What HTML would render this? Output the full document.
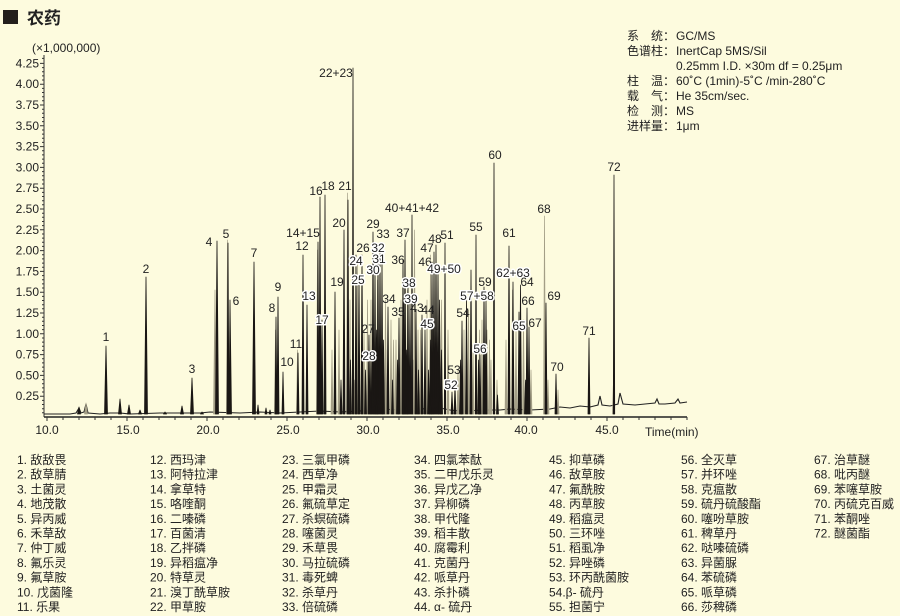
<!DOCTYPE html>
<html><head><meta charset="utf-8"><style>
html,body{margin:0;padding:0;background:#fdfbde;}
svg{display:block;}
text{font-family:"Liberation Sans","Noto Sans CJK SC",sans-serif;fill:#222;}
.h{paint-order:stroke;stroke:#fff;stroke-width:3px;stroke-linejoin:round;}
</style></head><body>
<svg width="900" height="616" viewBox="0 0 900 616" xmlns="http://www.w3.org/2000/svg">
<rect width="900" height="616" fill="#fdfbde"/>
<!-- header -->
<rect x="3" y="10" width="15" height="14" fill="#231f1c"/>
<text x="27" y="24" font-size="17" font-weight="bold">农药</text>
<text x="32" y="52" font-size="12">(×1,000,000)</text>

<!-- info -->
<g font-size="12">
<text x="627" y="40">系　统：</text><text x="676" y="40">GC/MS</text>
<text x="627" y="55">色谱柱：</text><text x="676" y="55">InertCap 5MS/Sil</text>
<text x="676" y="70">0.25mm I.D. ×30m df = 0.25μm</text>
<text x="627" y="85">柱　温：</text><text x="676" y="85">60˚C (1min)-5˚C /min-280˚C</text>
<text x="627" y="100">载　气：</text><text x="676" y="100">He 35cm/sec.</text>
<text x="627" y="115">检　测：</text><text x="676" y="115">MS</text>
<text x="627" y="130">进样量：</text><text x="676" y="130">1μm</text>
</g>

<!-- y axis -->
<g stroke="#333" stroke-width="1">
<line x1="44" y1="55" x2="44" y2="417"/>
<path d="M40 63.4H44M40 84.2H44M40 105H44M40 125.8H44M40 146.6H44M40 167.4H44M40 188.2H44M40 209H44M40 229.8H44M40 250.6H44M40 271.4H44M40 292.2H44M40 313H44M40 333.8H44M40 354.6H44M40 375.4H44M40 396.2H44"/>
<path d="M42 58.4H44M42 67.6H44M42 71.7H44M42 75.9H44M42 80H44M42 88.4H44M42 92.5H44M42 96.7H44M42 100.8H44M42 109.2H44M42 113.3H44M42 117.5H44M42 121.6H44M42 130H44M42 134.1H44M42 138.3H44M42 142.4H44M42 150.8H44M42 154.9H44M42 159.1H44M42 163.2H44M42 171.6H44M42 175.7H44M42 179.9H44M42 184H44M42 192.4H44M42 196.5H44M42 200.7H44M42 204.8H44M42 213.2H44M42 217.3H44M42 221.5H44M42 225.6H44M42 234H44M42 238.1H44M42 242.3H44M42 246.4H44M42 254.8H44M42 258.9H44M42 263.1H44M42 267.2H44M42 275.6H44M42 279.7H44M42 283.9H44M42 288H44M42 296.4H44M42 300.5H44M42 304.7H44M42 308.8H44M42 317.2H44M42 321.3H44M42 325.5H44M42 329.6H44M42 338H44M42 342.1H44M42 346.3H44M42 350.4H44M42 358.8H44M42 362.9H44M42 367.1H44M42 371.2H44M42 379.6H44M42 383.7H44M42 387.9H44M42 392H44M42 400.4H44M42 404.5H44M42 408.7H44M42 412.8H44"/>
</g>
<g font-size="12" text-anchor="end">
<text x="39" y="67.4">4.25</text><text x="39" y="88.2">4.00</text><text x="39" y="109">3.75</text>
<text x="39" y="129.8">3.50</text><text x="39" y="150.6">3.25</text><text x="39" y="171.4">3.00</text>
<text x="39" y="192.2">2.75</text><text x="39" y="213">2.50</text><text x="39" y="233.8">2.25</text>
<text x="39" y="254.6">2.00</text><text x="39" y="275.4">1.75</text><text x="39" y="296.2">1.50</text>
<text x="39" y="317">1.25</text><text x="39" y="337.8">1.00</text><text x="39" y="358.6">0.75</text>
<text x="39" y="379.4">0.50</text><text x="39" y="400.2">0.25</text>
</g>

<!-- x axis -->
<line x1="44" y1="417" x2="687" y2="417" stroke="#222" stroke-width="1.6"/>
<path stroke="#333" stroke-width="1" d="M47 417V421M63 417V420M79 417V420M95 417V420M111 417V420M127 417V421M143 417V420M159 417V420M175 417V420M191 417V420M207 417V421M223 417V420M239 417V420M255 417V420M271 417V420M287 417V421M303 417V420M319 417V420M335 417V420M351 417V420M367 417V421M383 417V420M399 417V420M415 417V420M431 417V420M447 417V421M463 417V420M479 417V420M495 417V420M511 417V420M527 417V421M543 417V420M559 417V420M575 417V420M591 417V420M607 417V421M623 417V420M639 417V420M655 417V420M671 417V420M687 417V420"/>
<g font-size="12" text-anchor="middle">
<text x="47" y="434">10.0</text><text x="128" y="434">15.0</text><text x="208" y="434">20.0</text>
<text x="288" y="434">25.0</text><text x="368" y="434">30.0</text><text x="448" y="434">35.0</text>
<text x="526" y="434">40.0</text><text x="607" y="434">45.0</text>
</g>
<text x="645" y="436" font-size="12">Time(min)</text>

<!-- baseline -->
<polyline fill="none" stroke="#222" stroke-width="1.1" points="44,414 70,414 76,413 79,408 81,413 84,412 86,404 88,413 100,414 110,413 120,413 130,414 160,413 200,413 210,412 240,413 260,412 280,413 300,412 320,411 340,412 360,411 380,409 400,410 420,409 440,408 450,410 460,411 470,411 480,410 500,410 510,409 530,410 550,409 560,407 570,408 580,406 590,407 598,405 600,396 602,405 610,406 618,404 620,393 623,404 635,405 645,404 655,403 657,399 659,404 665,404 675,403 678,399 680,403 687,402"/>

<!-- grey secondary peaks -->
<g fill="#a39e86" stroke="#a39e86" stroke-width="0.7" stroke-linejoin="round">
<polygon points="84.5,414 86,403 87.5,414"/>
<polygon points="213.5,414 215,290 216.5,414"/>
<polygon points="226.5,414 227.5,240 228.5,414"/>
<polygon points="274.5,414 275.5,330 276.5,414"/>
<polygon points="296.5,414 297.5,350 298.5,414"/>
<polygon points="316.5,414 317.5,250 318.5,414"/>
<polygon points="346.5,414 347.5,193 348.5,414"/>
<polygon points="356.5,414 357.5,265 358.5,414"/>
<polygon points="366.5,414 367.5,300 368.5,414"/>
<polygon points="376.5,414 377.5,280 378.5,414"/>
<polygon points="384.5,414 385.5,300 386.5,414"/>
<polygon points="392.5,414 393.5,340 394.5,414"/>
<polygon points="406.5,414 407.5,290 408.5,414"/>
<polygon points="413.5,414 414.5,230 415.5,414"/>
<polygon points="419.5,414 420.5,330 421.5,414"/>
<polygon points="429.5,414 430.5,255 431.5,414"/>
<polygon points="440.5,414 441.5,300 442.5,414"/>
<polygon points="467.5,414 468.5,310 469.5,414"/>
<polygon points="478.5,414 479.5,330 480.5,414"/>
<polygon points="488.5,414 489.5,340 490.5,414"/>
<polygon points="511.5,414 512.5,290 513.5,414"/>
<polygon points="522.5,414 523.5,320 524.5,414"/>
<polygon points="543.5,414 544.5,216 545.5,414"/>
<polygon points="331,414 332,350 333,414"/>
<polygon points="338,414 339,330 340,414"/>
<polygon points="349,414 350,300 351,414"/>
<polygon points="353.5,414 354.5,380 355.5,414"/>
<polygon points="363,414 364,330 365,414"/>
<polygon points="370,414 371,300 372,414"/>
<polygon points="373,414 374,385 375,414"/>
<polygon points="385,414 386,350 387,414"/>
<polygon points="390,414 391,320 392,414"/>
<polygon points="395,414 396,340 397,414"/>
<polygon points="400,414 401,300 402,414"/>
<polygon points="412,414 413,360 414,414"/>
<polygon points="417,414 418,330 419,414"/>
<polygon points="426,414 427,300 428,414"/>
<polygon points="432,414 433,320 434,414"/>
<polygon points="447,414 448,330 449,414"/>
<polygon points="457,414 458,370 459,414"/>
<polygon points="463,414 464,330 465,414"/>
<polygon points="472,414 473,345 474,414"/>
<polygon points="481,414 482,320 483,414"/>
<polygon points="486,414 487,330 488,414"/>
<polygon points="490,414 491,360 492,414"/>
<polygon points="496,414 497,380 498,414"/>
<polygon points="505,414 506,340 507,414"/>
<polygon points="515,414 516,330 517,414"/>
<polygon points="530,414 531,370 532,414"/>
<polygon points="547,414 548,380 549,414"/>
<polygon points="557,414 558,390 559,414"/>
<polygon points="612.5,414 613.5,380 614.5,414"/>
</g>

<!-- main peaks -->
<g fill="#1a1714" stroke="#1a1714" stroke-width="0.8" stroke-linejoin="round">
<polygon points="77.5,414 79,407 80.5,414"/>
<polygon points="118.5,414 120,399 121.5,414"/>
<polygon points="127.5,414 129,405 130.5,414"/>
<polygon points="138.5,414 140,410 141.5,414"/>
<polygon points="163.5,414 165,412 166.5,414"/>
<polygon points="180.5,414 182,406 183.5,414"/>
<polygon points="200.5,414 202,412 203.5,414"/>
<polygon points="104.5,414 106,346 107.5,414"/>
<polygon points="144.5,414 146,277 147.5,414"/>
<polygon points="190.5,414 192,378 193.5,414"/>
<polygon points="215.5,414 217,241 218.5,414"/>
<polygon points="227,414 228,243 229,414"/>
<polygon points="229,414 230,300 231.5,414"/>
<polygon points="252.5,414 254,262 255.5,414"/>
<polygon points="257,414 258,405 259,414"/>
<polygon points="265,414 266,408 267,414"/>
<polygon points="269,414 270,410 271,414"/>
<polygon points="275,414 276,317 277,414"/>
<polygon points="277,414 278,297 279,414"/>
<polygon points="282,414 283,372 284,414"/>
<polygon points="297,414 298,353 299,414"/>
<polygon points="302,414 303,255 304,414"/>
<polygon points="306,414 307,305 308,414"/>
<polygon points="317,414 318,242 319,414"/>
<polygon points="319,414 320,197 321,414"/>
<polygon points="321,414 322,320 323,414"/>
<polygon points="324,414 325,195 326,414"/>
<polygon points="334,414 335,292 336,414"/>
<polygon points="343,414 344,230 345,414"/>
<polygon points="347,414 348,200 349,414"/>
<polygon points="352.3,414 353,68 353.7,414"/>
<polygon points="355,414 356,255 357,414"/>
<polygon points="358,414 359,275 360,414"/>
<polygon points="361,414 362,255 363,414"/>
<polygon points="368,414 369,335 370,414"/>
<polygon points="370,414 371,360 372,414"/>
<polygon points="372,414 373,232 374,414"/>
<polygon points="374,414 375,265 376,414"/>
<polygon points="377,414 378,255 379,414"/>
<polygon points="379,414 380,250 381,414"/>
<polygon points="381,414 382,260 383,414"/>
<polygon points="387,414 388,307 389,414"/>
<polygon points="398,414 399,318 400,414"/>
<polygon points="402,414 403,260 404,414"/>
<polygon points="404,414 405,240 406,414"/>
<polygon points="407,414 408,285 409,414"/>
<polygon points="409,414 410,300 411,414"/>
<polygon points="411.3,414 412,215 412.7,414"/>
<polygon points="415,414 416,310 417,414"/>
<polygon points="421,414 422,315 423,414"/>
<polygon points="424,414 425,330 426,414"/>
<polygon points="431,414 432,262 433,414"/>
<polygon points="433,414 434,252 435,414"/>
<polygon points="435,414 436,245 437,414"/>
<polygon points="437,414 438,265 439,414"/>
<polygon points="444.3,414 445,243 445.7,414"/>
<polygon points="451,414 452,392 453,414"/>
<polygon points="454,414 455,385 456,414"/>
<polygon points="461,414 462,321 463,414"/>
<polygon points="470,414 471,270 472,414"/>
<polygon points="475.3,414 476,235 476.7,414"/>
<polygon points="479,414 480,355 481,414"/>
<polygon points="483,414 484,287 485,414"/>
<polygon points="485,414 486,300 487,414"/>
<polygon points="493.3,414 494,163 494.7,414"/>
<polygon points="508,414 509,246 510,414"/>
<polygon points="512,414 513,282 514,414"/>
<polygon points="518,414 519,312 520,414"/>
<polygon points="519.5,414 520.5,285 521.5,414"/>
<polygon points="526,414 527,308 528,414"/>
<polygon points="528,414 529,327 530,414"/>
<polygon points="545,414 546,303 547,414"/>
<polygon points="555,414 556,374 557,414"/>
<polygon points="588,414 589,338 590,414"/>
<polygon points="613.3,414 614,175 614.7,414"/>
<polygon points="340,414 341,380 342,414"/>
<polygon points="349.5,414 350.5,360 351.5,414"/>
<polygon points="364.5,414 365.5,370 366.5,414"/>
<polygon points="375.5,414 376.5,330 377.5,414"/>
<polygon points="382.5,414 383.5,340 384.5,414"/>
<polygon points="391.5,414 392.5,380 393.5,414"/>
<polygon points="396.5,414 397.5,360 398.5,414"/>
<polygon points="402.5,414 403.5,300 404.5,414"/>
<polygon points="405.5,414 406.5,350 407.5,414"/>
<polygon points="417.5,414 418.5,370 419.5,414"/>
<polygon points="427.5,414 428.5,370 429.5,414"/>
<polygon points="429.5,414 430.5,340 431.5,414"/>
<polygon points="438.5,414 439.5,300 440.5,414"/>
<polygon points="440.5,414 441.5,350 442.5,414"/>
<polygon points="459.5,414 460.5,360 461.5,414"/>
<polygon points="465.5,414 466.5,300 467.5,414"/>
<polygon points="477.5,414 478.5,360 479.5,414"/>
<polygon points="496.5,414 497.5,395 498.5,414"/>
<polygon points="524.5,414 525.5,380 526.5,414"/>
</g>

<!-- peak labels -->
<g font-size="12" text-anchor="middle">
<text x="106" y="341">1</text>
<text x="146" y="273">2</text>
<text x="192" y="373">3</text>
<text x="209" y="246">4</text>
<text x="226" y="238">5</text>
<text x="236" y="305">6</text>
<text x="254" y="257">7</text>
<text x="272" y="312">8</text>
<text x="278" y="291">9</text>
<text x="287" y="366">10</text>
<text x="296" y="348">11</text>
<text x="302" y="250">12</text>
<text class="h" x="309" y="300">13</text>
<text x="303" y="237">14+15</text>
<text x="316" y="195">16</text>
<text class="h" x="322" y="324">17</text>
<text x="328" y="190">18</text>
<text x="337" y="286">19</text>
<text x="339" y="227">20</text>
<text x="345" y="190">21</text>
<text x="336" y="77">22+23</text>
<text class="h" x="356" y="265">24</text>
<text class="h" x="358" y="284">25</text>
<text x="363" y="252">26</text>
<text x="368" y="333">27</text>
<text class="h" x="369" y="360">28</text>
<text x="373" y="228">29</text>
<text class="h" x="373" y="274">30</text>
<text class="h" x="379" y="263">31</text>
<text class="h" x="378" y="252">32</text>
<text x="383" y="238">33</text>
<text x="389" y="303">34</text>
<text x="398" y="316">35</text>
<text x="398" y="264">36</text>
<text x="403" y="237">37</text>
<text class="h" x="409" y="287">38</text>
<text class="h" x="411" y="303">39</text>
<text x="412" y="212">40+41+42</text>
<text x="417" y="312">43</text>
<text x="428" y="314">44</text>
<text class="h" x="427" y="328">45</text>
<text x="425" y="266">46</text>
<text x="427" y="252">47</text>
<text x="435" y="243">48</text>
<text class="h" x="444" y="273">49+50</text>
<text x="447" y="239">51</text>
<text class="h" x="451" y="389">52</text>
<text x="454" y="374">53</text>
<text x="463" y="317">54</text>
<text x="476" y="231">55</text>
<text class="h" x="480" y="353">56</text>
<text class="h" x="477" y="300">57+58</text>
<text x="485" y="286">59</text>
<text x="495" y="159">60</text>
<text x="509" y="237">61</text>
<text class="h" x="513" y="277">62+63</text>
<text x="527" y="286">64</text>
<text class="h" x="519" y="330">65</text>
<text x="528" y="305">66</text>
<text x="535" y="327">67</text>
<text x="544" y="213">68</text>
<text x="554" y="300">69</text>
<text x="557" y="371">70</text>
<text x="589" y="335">71</text>
<text x="614" y="171">72</text>
</g>

<!-- legend -->
<g font-size="12">
<text x="17" y="464">1. 敌敌畏</text>
<text x="17" y="478.7">2. 敌草腈</text>
<text x="17" y="493.4">3. 土菌灵</text>
<text x="17" y="508.1">4. 地茂散</text>
<text x="17" y="522.8">5. 异丙威</text>
<text x="17" y="537.5">6. 禾草敌</text>
<text x="17" y="552.2">7. 仲丁威</text>
<text x="17" y="566.9">8. 氟乐灵</text>
<text x="17" y="581.6">9. 氟草胺</text>
<text x="17" y="596.3">10. 戊菌隆</text>
<text x="17" y="611">11. 乐果</text>

<text x="150" y="464">12. 西玛津</text>
<text x="150" y="478.7">13. 阿特拉津</text>
<text x="150" y="493.4">14. 拿草特</text>
<text x="150" y="508.1">15. 咯喹酮</text>
<text x="150" y="522.8">16. 二嗪磷</text>
<text x="150" y="537.5">17. 百菌清</text>
<text x="150" y="552.2">18. 乙拌磷</text>
<text x="150" y="566.9">19. 异稻瘟净</text>
<text x="150" y="581.6">20. 特草灵</text>
<text x="150" y="596.3">21. 溴丁酰草胺</text>
<text x="150" y="611">22. 甲草胺</text>

<text x="282" y="464">23. 三氯甲磷</text>
<text x="282" y="478.7">24. 西草净</text>
<text x="282" y="493.4">25. 甲霜灵</text>
<text x="282" y="508.1">26. 氟硫草定</text>
<text x="282" y="522.8">27. 杀螟硫磷</text>
<text x="282" y="537.5">28. 噻菌灵</text>
<text x="282" y="552.2">29. 禾草畏</text>
<text x="282" y="566.9">30. 马拉硫磷</text>
<text x="282" y="581.6">31. 毒死蜱</text>
<text x="282" y="596.3">32. 杀草丹</text>
<text x="282" y="611">33. 倍硫磷</text>

<text x="414" y="464">34. 四氯苯酞</text>
<text x="414" y="478.7">35. 二甲戊乐灵</text>
<text x="414" y="493.4">36. 异戊乙净</text>
<text x="414" y="508.1">37. 异柳磷</text>
<text x="414" y="522.8">38. 甲代隆</text>
<text x="414" y="537.5">39. 稻丰散</text>
<text x="414" y="552.2">40. 腐霉利</text>
<text x="414" y="566.9">41. 克菌丹</text>
<text x="414" y="581.6">42. 哌草丹</text>
<text x="414" y="596.3">43. 杀扑磷</text>
<text x="414" y="611">44. α- 硫丹</text>

<text x="549" y="464">45. 抑草磷</text>
<text x="549" y="478.7">46. 敌草胺</text>
<text x="549" y="493.4">47. 氟酰胺</text>
<text x="549" y="508.1">48. 丙草胺</text>
<text x="549" y="522.8">49. 稻瘟灵</text>
<text x="549" y="537.5">50. 三环唑</text>
<text x="549" y="552.2">51. 稻虱净</text>
<text x="549" y="566.9">52. 异唑磷</text>
<text x="549" y="581.6">53. 环丙酰菌胺</text>
<text x="549" y="596.3">54.β- 硫丹</text>
<text x="549" y="611">55. 担菌宁</text>

<text x="681" y="464">56. 全灭草</text>
<text x="681" y="478.7">57. 并环唑</text>
<text x="681" y="493.4">58. 克瘟散</text>
<text x="681" y="508.1">59. 硫丹硫酸酯</text>
<text x="681" y="522.8">60. 噻吩草胺</text>
<text x="681" y="537.5">61. 稗草丹</text>
<text x="681" y="552.2">62. 哒嗪硫磷</text>
<text x="681" y="566.9">63. 异菌脲</text>
<text x="681" y="581.6">64. 苯硫磷</text>
<text x="681" y="596.3">65. 哌草磷</text>
<text x="681" y="611">66. 莎稗磷</text>

<text x="814" y="464">67. 治草醚</text>
<text x="814" y="478.7">68. 吡丙醚</text>
<text x="814" y="493.4">69. 苯噻草胺</text>
<text x="814" y="508.1">70. 丙硫克百威</text>
<text x="814" y="522.8">71. 苯酮唑</text>
<text x="814" y="537.5">72. 醚菌酯</text>
</g>
</svg>
</body></html>
